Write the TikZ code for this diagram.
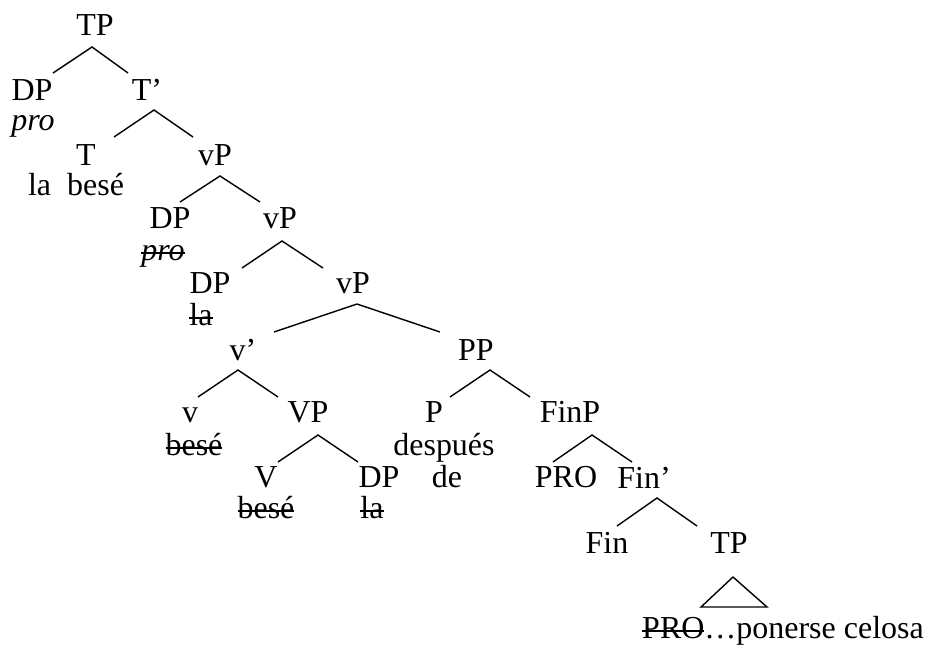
\documentclass[tikz,border=0pt]{standalone}
\usepackage{fontspec}
\setmainfont{Liberation Serif}
\usepackage{tikz}

\newsavebox{\strikebox}
\newcommand{\strike}[1]{\sbox\strikebox{#1}\rlap{\usebox\strikebox}\rule[0.2em]{\wd\strikebox}{1pt}}

\tikzset{
  cat/.style={anchor=base,inner sep=0pt,font=\fontsize{18.2}{21}\selectfont},
  lex/.style={anchor=base,inner sep=0pt,font=\fontsize{18.2}{21}\selectfont},
  branch/.style={line width=0.8pt}
}

\begin{document}
\begin{tikzpicture}[x=0.02cm,y=-0.02cm]
  \useasboundingbox (0,0) rectangle (931,650);

  \node[cat] (tp)     at ( 95, 35) {TP};
  \node[cat] (dp1)    at ( 32,100) {DP};
  \node[lex] (pro1)   at ( 33,130) {\textit{pro}};
  \node[cat] (tbar)   at (147,100) {T’};
  \node[cat] (t)      at ( 86,165) {T};
  \node[lex] (labese) at ( 76,195) {la~~besé};
  \node[cat] (vp1)    at (215,165) {vP};
  \node[cat] (dp2)    at (170,228) {DP};
  \node[lex] (pro2)   at (163,260) {\strike{\textit{pro}}};
  \node[cat] (vp2)    at (280,228) {vP};
  \node[cat] (dp3)    at (210,293) {DP};
  \node[lex] (la1)    at (201,325) {\strike{la}};
  \node[cat] (vp3)    at (353,293) {vP};
  \node[cat] (vbar)   at (243,360) {v’};
  \node[cat] (pp)     at (476,360) {PP};
  \node[cat] (v)      at (190,422) {v};
  \node[lex] (bese1)  at (194,455) {\strike{besé}};
  \node[cat] (vp4)    at (308,422) {VP};
  \node[cat] (bigv)   at (266,487) {V};
  \node[lex] (bese2)  at (266,518) {\strike{besé}};
  \node[cat] (dp4)    at (379,487) {DP};
  \node[lex] (la2)    at (372,518) {\strike{la}};
  \node[cat] (p)      at (434,422) {P};
  \node[lex] (despues) at (444,455) {después};
  \node[lex] (de)     at (447,487) {de};
  \node[cat] (finp)   at (570,422) {FinP};
  \node[cat] (pro)    at (566,487) {PRO};
  \node[cat] (finbar) at (644,488) {Fin’};
  \node[cat] (fin)    at (607,553) {Fin};
  \node[cat] (tp2)    at (729,553) {TP};
  \node[lex] (rest)   at (783,638) {\strike{PRO}…ponerse celosa};

  \draw[branch] ([shift={(21,-27)}]dp1.base) -- ([shift={(-3,12)}]tp.base) -- ([shift={(-19,-27)}]tbar.base);
  \draw[branch] ([shift={(28,-28)}]t.base) -- ([shift={(7,10)}]tbar.base) -- ([shift={(-22,-28)}]vp1.base);
  \draw[branch] ([shift={(10,-26)}]dp2.base) -- ([shift={(5,11)}]vp1.base) -- ([shift={(-20,-26)}]vp2.base);
  \draw[branch] ([shift={(32,-25)}]dp3.base) -- ([shift={(2,13)}]vp2.base) -- ([shift={(-30,-25)}]vp3.base);
  \draw[branch] ([shift={(31,-28)}]vbar.base) -- ([shift={(4,11)}]vp3.base) -- ([shift={(-36,-28)}]pp.base);
  \draw[branch] ([shift={(8,-25)}]v.base) -- ([shift={(-5,10)}]vbar.base) -- ([shift={(-30,-25)}]vp4.base);
  \draw[branch] ([shift={(12,-25)}]bigv.base) -- ([shift={(10,13)}]vp4.base) -- ([shift={(-21,-25)}]dp4.base);
  \draw[branch] ([shift={(16,-25)}]p.base) -- ([shift={(14,10)}]pp.base) -- ([shift={(-40,-25)}]finp.base);
  \draw[branch] ([shift={(-13,-25)}]pro.base) -- ([shift={(22,13)}]finp.base) -- ([shift={(-12,-26)}]finbar.base);
  \draw[branch] ([shift={(10,-27)}]fin.base) -- ([shift={(13,10)}]finbar.base) -- ([shift={(-32,-27)}]tp2.base);

  \draw[branch] ([shift={(4,24)}]tp2.base) -- ([shift={(-28,54)}]tp2.base)
    -- ([shift={(38,54)}]tp2.base) -- cycle;
\end{tikzpicture}
\end{document}
